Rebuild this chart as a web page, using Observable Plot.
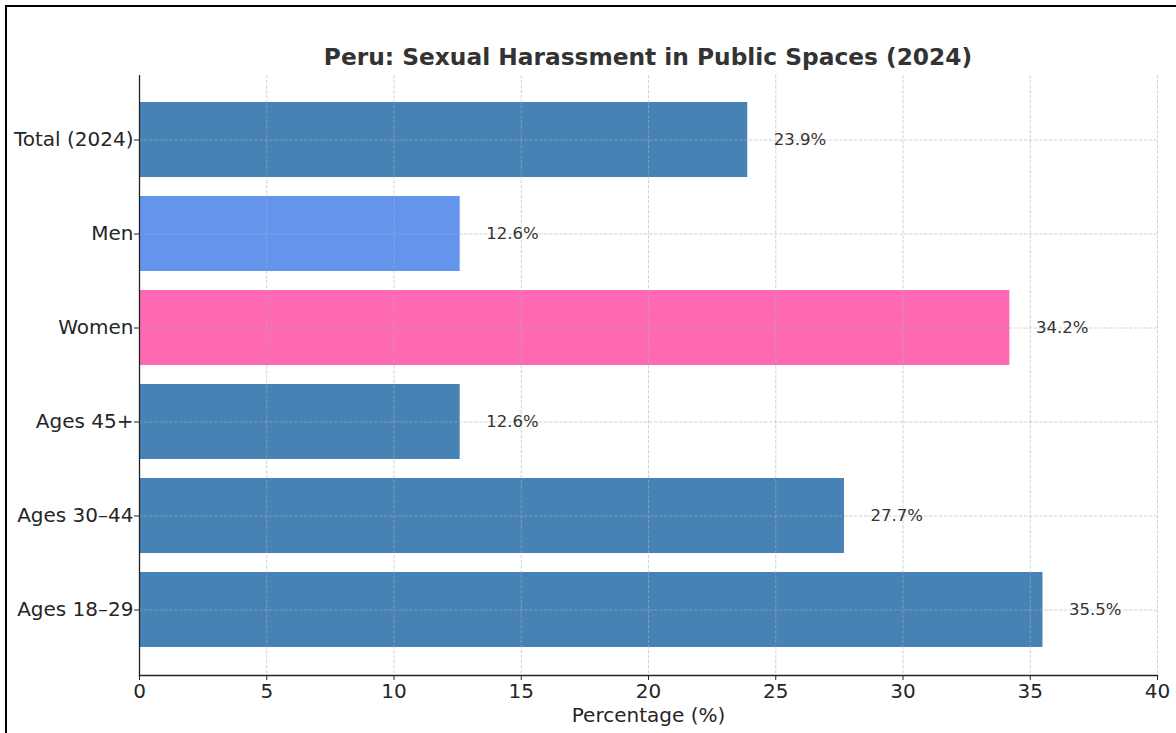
<!DOCTYPE html>
<html>
<head>
<meta charset="utf-8">
<script src="https://cdn.jsdelivr.net/npm/d3@7"></script>
<script src="https://cdn.jsdelivr.net/npm/@observablehq/plot@0.6"></script>
<style>
  html, body { margin: 0; padding: 0; background: #fff; }
  body { width: 1176px; height: 733px; position: relative; overflow: hidden; font-family: "DejaVu Sans", sans-serif; }
  #frame { position: absolute; left: 5px; top: 5px; right: -10px; bottom: -10px; border-left: 2px solid #000; border-top: 2px solid #000; pointer-events: none; }
  #title { position: absolute; left: 139px; width: 1018px; top: 43px; text-align: center; font-size: 23.3px; font-weight: bold; color: #333; line-height: 28px; }
  #chart { position: absolute; left: 0; top: 75px; }
</style>
</head>
<body>
<div id="frame"></div>
<div id="title">Peru: Sexual Harassment in Public Spaces (2024)</div>
<div id="chart"></div>
<script>
const categories = ["Total (2024)", "Men", "Women", "Ages 45+", "Ages 30–44", "Ages 18–29"];
const values = [23.9, 12.6, 34.2, 12.6, 27.7, 35.5];
const barColors = ["#4682B4", "#6495ED", "#FF69B4", "#4682B4", "#4682B4", "#4682B4"];
const xTicks = [0, 5, 10, 15, 20, 25, 30, 35, 40];

const data = categories.map((c, i) => ({category: c, value: values[i], color: barColors[i]}));

const gridStyle = {stroke: "#b0b0b0", strokeOpacity: 0.7, strokeDasharray: "3.5,1.5", strokeWidth: 0.8};

const plot = Plot.plot({
  width: 1176,
  height: 658,
  marginTop: 0,
  marginLeft: 139,
  marginRight: 19,
  marginBottom: 58,
  style: {fontFamily: "DejaVu Sans, sans-serif", color: "#262626", background: "transparent"},
  x: {domain: [0, 40], ticks: xTicks},
  y: {domain: categories, paddingInner: 0.2, paddingOuter: 0.29},
  marks: [
    Plot.barX(data, {x: "value", y: "category", fill: "color"}),
    Plot.gridX(xTicks, {...gridStyle}),
    Plot.gridY(categories, {...gridStyle}),
    Plot.text(data, {x: "value", y: "category", text: d => d.value.toFixed(1) + "%", dx: 26, textAnchor: "start", fontSize: 16.5, fill: "#333"}),
    Plot.axisX(xTicks, {tickSize: 5, tickPadding: 3, fontSize: 20, stroke: "#222", label: "Percentage (%)", labelAnchor: "center", labelOffset: 46, labelArrow: "none"}),
    Plot.axisY({tickSize: 5, tickPadding: 1, fontSize: 20, stroke: "#222", label: null}),
    Plot.frame({anchor: "left", stroke: "#222", strokeWidth: 1.3}),
    Plot.frame({anchor: "bottom", stroke: "#222", strokeWidth: 1.3})
  ]
});
document.getElementById("chart").appendChild(plot);
</script>
</body>
</html>
